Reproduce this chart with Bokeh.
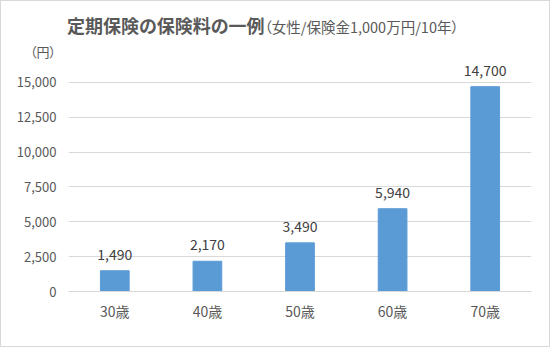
from bokeh.plotting import figure
from bokeh.layouts import column
from bokeh.models import ColumnDataSource, NumeralTickFormatter, LabelSet, FixedTicker, Range1d, Div
from bokeh.core.properties import value
from bokeh.embed import file_html
from bokeh.resources import INLINE

ages = ["30歳", "40歳", "50歳", "60歳", "70歳"]
premiums = [1490, 2170, 3490, 5940, 14700]
premium_labels = ["1,490", "2,170", "3,490", "5,940", "14,700"]
y_ticks = [0, 2500, 5000, 7500, 10000, 12500, 15000]
title_main = "定期保険の保険料の一例"
title_sub = "（女性/保険金1,000万円/10年）"
unit_label = "（円）"

FONT = "Noto Sans CJK JP"
TXT = "#595959"

src = ColumnDataSource(dict(age=ages, val=premiums, lab=premium_labels))

html = (
    f'<div style="position:relative;width:548px;height:60px;font-family:\'{FONT}\';color:{TXT};'
    f'font-feature-settings:\'palt\';">'
    f'<div style="position:absolute;left:66px;top:12px;white-space:nowrap;line-height:24px;">'
    f'<span style="font-size:18px;font-weight:bold;">{title_main}</span>'
    f'<span style="font-size:14.5px;">{title_sub}</span></div>'
    f'<div style="position:absolute;left:29px;top:42px;white-space:nowrap;font-size:13px;line-height:18px;">'
    f'{unit_label}</div></div>'
)
header = Div(text=html, width=548, height=60, margin=(0, 0, 0, 0))

p = figure(x_range=ages, y_range=Range1d(0, 16435), width=548, height=285,
           output_backend="svg", toolbar_location=None, margin=(0, 0, 0, 0),
           min_border_left=67, min_border_right=18, min_border_top=1, min_border_bottom=55)
p.outline_line_color = None
p.background_fill_color = "white"
p.border_fill_color = "white"

p.vbar(x="age", top="val", width=0.31, source=src, color="#5b9bd5")
p.add_layout(LabelSet(x="age", y="val", text="lab", source=src, text_align="center",
                      text_baseline="bottom", y_offset=11, text_font_size=value("14px"),
                      text_color=value("#404040"), text_font=value(FONT)))

p.yaxis.ticker = FixedTicker(ticks=y_ticks)
p.yaxis.formatter = NumeralTickFormatter(format="0,0")
p.yaxis.axis_line_color = None
p.yaxis.major_tick_line_color = None
p.yaxis.minor_tick_line_color = None
p.yaxis.major_tick_out = 0
p.yaxis.minor_tick_out = 0
p.yaxis.major_label_standoff = 12
p.yaxis.major_label_text_font = FONT
p.yaxis.major_label_text_font_size = "13px"
p.yaxis.major_label_text_color = TXT

p.xaxis.axis_line_color = "#d9d9d9"
p.xaxis.major_tick_line_color = None
p.xaxis.minor_tick_line_color = None
p.xaxis.major_tick_out = 0
p.xaxis.minor_tick_out = 0
p.xaxis.major_label_standoff = 9
p.xaxis.major_label_text_font = FONT
p.xaxis.major_label_text_font_size = "14px"
p.xaxis.major_label_text_color = TXT

p.xgrid.grid_line_color = None
p.ygrid.grid_line_color = "#d9d9d9"

layout = column(header, p, spacing=0, margin=(0, 0, 0, 0),
                styles={"border": "1px solid #d9d9d9", "background": "white"})

open("out.html", "w").write(file_html(layout, INLINE))
